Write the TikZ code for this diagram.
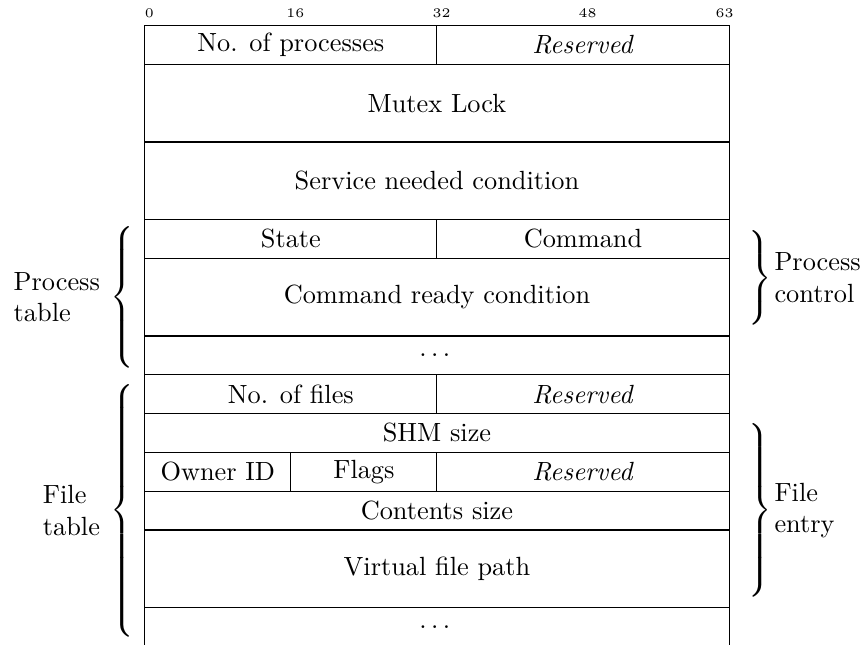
\documentclass[tikz,border=0pt]{standalone}
\usetikzlibrary{calc}
% one bit column and one 32-bit row of the layout
\newcommand\bitw{3.4694pt}
\newcommand\rowh{14.744pt}
% stretchable braces of a given height for the word groups
\newcommand\grpopen[1]{\nulldelimiterspace=0pt$\left\{\vcenter{\hbox{\rule{0pt}{#1}}}\right.$}
\newcommand\grpclose[1]{\nulldelimiterspace=0pt$\left.\vcenter{\hbox{\rule{0pt}{#1}}}\right\}$}
% three spaced dots for the repeated entries
\newcommand\moredots{.\kern1.67pt.\kern1.67pt.\kern1.67pt}
\tikzset{
  field/.style 2 args={draw, line width=0.4pt, inner sep=0pt, outer sep=0pt,
    anchor=north west, minimum width={#1*\bitw}, minimum height={#2*\rowh}},
  openfield/.style 2 args={field={#1}{#2}, draw=none},
  bitnum/.style={font=\tiny, inner sep=0pt, anchor=base},
  grouplabel/.style={inner sep=0pt, align=left},
  bracebox/.style={inner sep=0pt, outer sep=0pt},
  rim/.style={line width=0.4pt},
}
\begin{document}
\begin{tikzpicture}[x=0.38pt, y=-0.38pt]
\useasboundingbox (0,0) rectangle (862,645);

% bit numbers
\foreach \b in {0,16,32,48,63}
  \node[bitnum] (b\b) at ({144.8+(\b+0.5)*9.13},17.3) {\b};

% shared area header
\node[field={32}{1}] (f-nproc) at (144.8,25.6) {No. of processes};
\node[field={32}{1}] (f-res1) at (f-nproc.north east) {\emph{Reserved}};
\node[field={64}{2}] (f-mutex) at (f-nproc.south west) {Mutex Lock};
\node[field={64}{2}] (f-service) at (f-mutex.south west) {Service needed condition};

% process table
\node[field={32}{1}] (f-state) at (f-service.south west) {State};
\node[field={32}{1}] (f-command) at (f-state.north east) {Command};
\node[field={64}{2}] (f-cready) at (f-state.south west) {Command ready condition};
\node[field={64}{1}] (f-dots1) at (f-cready.south west) {\moredots};

% file table
\node[field={32}{1}] (f-nfiles) at (f-dots1.south west) {No. of files};
\node[field={32}{1}] (f-res2) at (f-nfiles.north east) {\emph{Reserved}};
\node[field={64}{1}] (f-shm) at (f-nfiles.south west) {SHM size};
\node[field={16}{1}] (f-owner) at (f-shm.south west) {Owner ID};
\node[field={16}{1}] (f-flags) at (f-owner.north east) {Flags};
\node[field={32}{1}] (f-res3) at (f-flags.north east) {\emph{Reserved}};
\node[field={64}{1}] (f-csize) at (f-owner.south west) {Contents size};
\node[field={64}{2}] (f-vpath) at (f-csize.south west) {Virtual file path};
\node[openfield={64}{1}] (f-dots2) at (f-vpath.south west) {\moredots};
\coordinate (floor) at (0,645);
\draw[rim] (f-dots2.north west) -- (f-dots2.north west |- floor);
\draw[rim] (f-dots2.north east) -- (f-dots2.north east |- floor);

% word groups on the left
\node[bracebox, anchor=west] (br-ptab) at (110,297.2) {\grpopen{58.98pt}};
\node[grouplabel, anchor=east] (l-ptab) at (100.5,297.2) {Process\\table};
\node[bracebox, anchor=west] (br-ftab) at (110,510.6) {\grpopen{99.7pt}};
\node[grouplabel, anchor=east] (l-ftab) at (100.5,510.6) {File\\table};

% word groups on the right
\node[bracebox, anchor=west] (br-pctl) at (748,277.8) {\grpclose{37.8pt}};
\node[grouplabel, anchor=west] (l-pctl) at (774,277.8) {Process\\control};
\node[bracebox, anchor=west] (br-fent) at (748,510.6) {\grpclose{68.6pt}};
\node[grouplabel, anchor=west] (l-fent) at (774,510.6) {File\\entry};
\end{tikzpicture}
\end{document}
